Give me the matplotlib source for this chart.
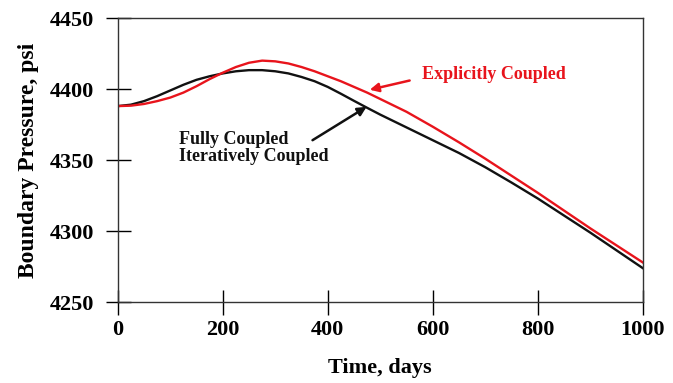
import matplotlib.pyplot as plt

plt.rcParams['font.family'] = 'Liberation Serif'
plt.rcParams['font.weight'] = 'bold'

# boundary pressure vs time, two coupling schemes
time_fc = [0, 25, 50, 75, 100, 125, 150, 175, 200, 225, 250, 275, 300, 325,
           350, 375, 400, 425, 450, 475, 500, 550, 600, 650, 700, 750, 800,
           850, 900, 950, 1000]
p_fc = [4388, 4389, 4391.5, 4395, 4399, 4403, 4406.5, 4409, 4411, 4412.5,
        4413.3, 4413.3, 4412.5, 4411, 4408.5, 4405.5, 4401.5, 4396.7, 4391.7,
        4386.8, 4382, 4373, 4364, 4355, 4345, 4334.2, 4323, 4311, 4299,
        4286.5, 4274]

time_ec = [0, 25, 50, 75, 100, 125, 150, 175, 200, 225, 250, 275, 300, 325,
           350, 375, 400, 425, 450, 475, 500, 550, 600, 650, 700, 750, 800,
           850, 900, 950, 1000]
p_ec = [4388, 4388.3, 4389.5, 4391.5, 4394, 4397.5, 4402, 4407, 4411.5,
        4415.5, 4418.5, 4420, 4419.5, 4418, 4415.5, 4412.5, 4409, 4405.5,
        4401.5, 4397.5, 4393, 4384, 4373.5, 4362.5, 4351, 4339, 4327, 4314.5,
        4302, 4290, 4278]

xticks = [0, 200, 400, 600, 800, 1000]
yticks = [4250, 4300, 4350, 4400, 4450]

black = '#111111'
red = '#e8141c'

fig = plt.figure(figsize=(6.73, 3.83), dpi=100)
ax = fig.add_axes([0.175, 0.211, 0.78, 0.742])

ax.plot(time_fc, p_fc, color=black, lw=1.7)
ax.plot(time_ec, p_ec, color=red, lw=1.7)

ax.set_xlim(0, 1000)
ax.set_ylim(4250, 4450)
ax.set_xticks(xticks)
ax.set_yticks(yticks)
ax.tick_params(direction='inout', length=18, width=1, labelsize=16)
ax.tick_params(axis='x', pad=4)
ax.tick_params(axis='y', pad=8)
for s in ax.spines.values():
    s.set_color('#333333')
    s.set_linewidth(1)

ax.set_xlabel('Time, days', fontsize=16, fontweight='bold', labelpad=13)
ax.set_ylabel('Boundary Pressure, psi', fontsize=17, fontweight='bold', labelpad=8)

# labels with arrows pointing at the curves
ax.text(579, 4410, 'Explicitly Coupled', color=red, fontsize=13,
        fontweight='bold', va='center', ha='left')
ax.annotate('', xy=(480, 4399.5), xytext=(556, 4406),
            arrowprops=dict(arrowstyle='-|>', color=red, lw=1.8,
                            shrinkA=0, shrinkB=0, mutation_scale=13))

ax.text(116, 4358.8, 'Fully Coupled\nIteratively Coupled', color=black,
        fontsize=13, fontweight='bold', va='center', ha='left',
        linespacing=1.0)
ax.annotate('', xy=(474, 4387.5), xytext=(371, 4364),
            arrowprops=dict(arrowstyle='-|>', color=black, lw=1.8,
                            shrinkA=0, shrinkB=0, mutation_scale=13))

fig.savefig('out.png', dpi=100)
